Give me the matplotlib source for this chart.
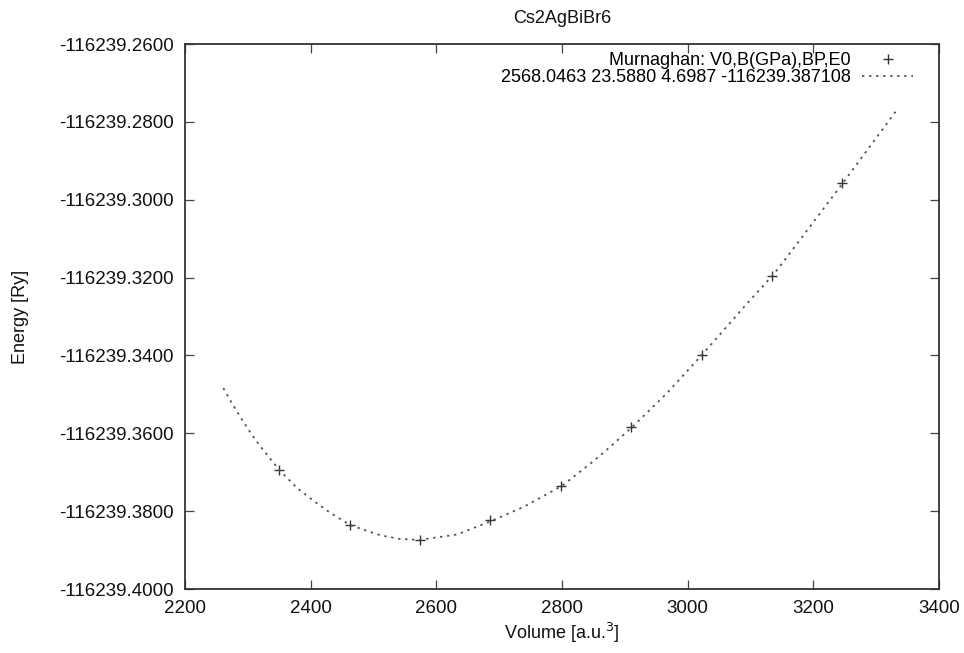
import matplotlib
matplotlib.use('Agg')
import matplotlib.pyplot as plt
from matplotlib.ticker import FormatStrFormatter

plt.rcParams['font.family'] = ['Liberation Sans', 'DejaVu Sans']

title = 'Cs2AgBiBr6'
fit_label = 'Murnaghan: V0,B(GPa),BP,E0'
param_label = '2568.0463 23.5880 4.6987 -116239.387108'

# calculated points (volume in a.u.^3, energy in Ry)
volume = [2350, 2462, 2574, 2686, 2798, 2910, 3022, 3134, 3246]
energy = [-116239.3695, -116239.3836, -116239.3874, -116239.3824, -116239.3736,
          -116239.3584, -116239.3398, -116239.3197, -116239.2957]

# fitted curve
fit_volume = [2261, 2277, 2293, 2307, 2320, 2350, 2378, 2405, 2431, 2463, 2511,
              2540, 2572, 2633, 2688, 2739, 2800, 2845, 2866, 2911, 2967, 3023,
              3097, 3135, 3152, 3247, 3333]
fit_energy = [-116239.3484, -116239.3529, -116239.3571, -116239.3605, -116239.3634,
              -116239.3694, -116239.3740, -116239.3774, -116239.3804, -116239.3836,
              -116239.3862, -116239.3871, -116239.3874, -116239.3860, -116239.3825,
              -116239.3789, -116239.3735, -116239.3678, -116239.3650, -116239.3585,
              -116239.3497, -116239.3398, -116239.3262, -116239.3195, -116239.3160,
              -116239.2957, -116239.2769]

x_ticks = [2200, 2400, 2600, 2800, 3000, 3200, 3400]
y_ticks = [-116239.40, -116239.38, -116239.36, -116239.34, -116239.32,
           -116239.30, -116239.28, -116239.26]

fig = plt.figure(figsize=(9.64, 6.53), dpi=100)
ax = fig.add_axes([0.1919, 0.098, 0.7822, 0.8346])

ax.plot(volume, energy, linestyle='none', marker='+', markersize=7.5,
        markeredgewidth=1.0, color='#333333', label=fit_label)
ax.plot(fit_volume, fit_energy, linestyle=(0, (1.3, 2.6)), linewidth=1.3,
        color='#555555', label=param_label)

ax.set_xlim(2200, 3400)
ax.set_ylim(-116239.40, -116239.26)
ax.set_xticks(x_ticks)
ax.set_yticks(y_ticks)
ax.yaxis.set_major_formatter(FormatStrFormatter('%.4f'))

ax.tick_params(direction='in', length=6.5, width=0.9, color='#444444',
               top=True, right=True, labelsize=13.5, labelcolor='#111111', pad=8)
for s in ax.spines.values():
    s.set_color('#333333')
    s.set_linewidth(1.3)

ax.set_title(title, fontsize=13, pad=15, color='#111111')
ax.set_xlabel('Volume [a.u.$^3$]', fontsize=13, color='#111111')
ax.set_ylabel('Energy [Ry]', fontsize=13, color='#111111')
ax.xaxis.set_label_coords(0.5, -0.058)
ax.yaxis.set_label_coords(-0.207, 0.5)

ax.legend(loc='upper right', bbox_to_anchor=(0.9655, 0.985), frameon=False,
          markerfirst=False, fontsize=13, handlelength=2.8, handletextpad=0.65,
          labelspacing=0.0, borderpad=0, borderaxespad=0)

fig.savefig('out.png', dpi=100)
